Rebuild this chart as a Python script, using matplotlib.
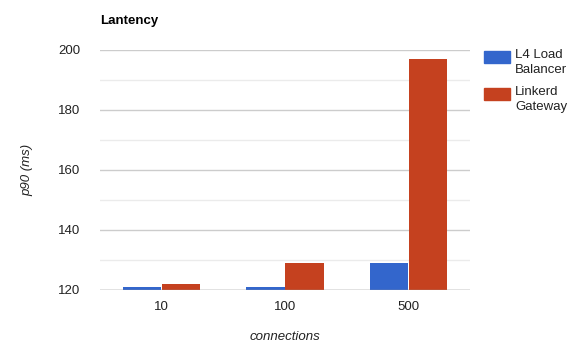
import numpy as np
import matplotlib
matplotlib.use("Agg")
import matplotlib.pyplot as plt
from matplotlib.patches import Rectangle

categories = ["10", "100", "500"]
l4_values = [121, 121, 129]
linkerd_values = [122, 129, 197]
series_names = ["L4 Load\nBalancer", "Linkerd\nGateway"]
colors = ["#3366cc", "#c5411f"]

plt.rcParams['font.family'] = ['Liberation Sans', 'DejaVu Sans']

fig = plt.figure(figsize=(5.87, 3.56), dpi=100)
ax = fig.add_axes([100/587, 66/356, 370/587, 240/356])

x = np.arange(len(categories))
w = 0.31
ax.bar(x - w/2 - 0.004, np.array(l4_values) - 120, w, bottom=120, color=colors[0], zorder=3)
ax.bar(x + w/2 + 0.004, np.array(linkerd_values) - 120, w, bottom=120, color=colors[1], zorder=3)

ax.set_xlim(-0.5, 2.5)
ax.set_ylim(120, 200)
ax.set_yticks([120, 140, 160, 180, 200])
ax.set_yticks([130, 150, 170, 190], minor=True)
ax.grid(axis='y', which='major', color='#cccccc', lw=1, zorder=0)
ax.grid(axis='y', which='minor', color='#ebebeb', lw=1, zorder=0)
ax.axhline(120, color='#999999', lw=1, zorder=4)
ax.set_xticks(x)
ax.set_xticklabels(categories)
ax.tick_params(axis='both', which='both', length=0, labelsize=9.5, labelcolor='#222222')
ax.tick_params(axis='y', pad=14)
ax.tick_params(axis='x', pad=8)
for s in ax.spines.values():
    s.set_visible(False)

fig.text(100/587, 1 - 21/356, "Lantency", fontsize=9.5, fontweight='bold', va='center', ha='left')
fig.text(27/587, 1 - 170/356, "p90 (ms)", fontsize=9.5, style='italic', rotation=90,
         va='center', ha='center', color='#222222')
fig.text(285/587, 1 - 337/356, "connections", fontsize=9.5, style='italic',
         va='center', ha='center', color='#222222')

# legend
for i, (name, c) in enumerate(zip(series_names, colors)):
    top = 51 + i * 37
    fig.patches.append(Rectangle((484/587, 1 - (top + 12)/356), 26/587, 12/356,
                                 transform=fig.transFigure, color=c))
    fig.text(515/587, 1 - (top - 2)/356, name, fontsize=9.5, va='top', ha='left',
             color='#222222', linespacing=1.35)

fig.savefig("out.png", dpi=100)
